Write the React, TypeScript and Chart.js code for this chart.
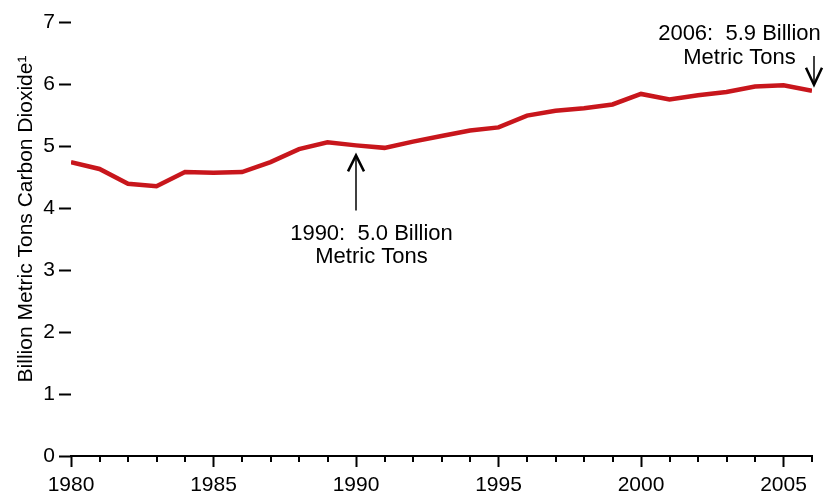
import { useEffect, useRef } from "react";
import { Chart, registerables } from "chart.js";

Chart.register(...registerables);

const years = [1980, 1981, 1982, 1983, 1984, 1985, 1986, 1987, 1988, 1989, 1990, 1991, 1992, 1993, 1994, 1995, 1996, 1997, 1998, 1999, 2000, 2001, 2002, 2003, 2004, 2005, 2006];
const emissions = [4.74, 4.63, 4.39, 4.35, 4.58, 4.57, 4.58, 4.74, 4.95, 5.06, 5.01, 4.97, 5.07, 5.16, 5.25, 5.30, 5.49, 5.57, 5.61, 5.67, 5.84, 5.75, 5.82, 5.87, 5.96, 5.98, 5.89];
const xLabelYears = [1980, 1985, 1990, 1995, 2000, 2005];
const yTicks = [0, 1, 2, 3, 4, 5, 6, 7];
const yTitle = "Billion Metric Tons Carbon Dioxide\u00B9";
const note1990 = ["1990:  5.0 Billion", "Metric Tons"];
const note2006 = ["2006:  5.9 Billion", "Metric Tons"];

const FONT = "'Liberation Sans', Arial, Helvetica, sans-serif";
const RED = "#c8161c";

export default function App() {
  const ref = useRef<HTMLCanvasElement | null>(null);

  useEffect(() => {
    const canvas = ref.current;
    if (!canvas) return;

    const decorations = {
      id: "decorations",
      afterDraw(chart: any) {
        const ctx = chart.ctx as CanvasRenderingContext2D;
        const xs = chart.scales.x;
        const ys = chart.scales.y;
        const bottom = chart.chartArea.bottom;
        ctx.save();
        // minor x ticks
        ctx.strokeStyle = "#000";
        ctx.lineWidth = 2;
        for (const yr of years) {
          if (xLabelYears.includes(yr)) continue;
          const px = Math.round(xs.getPixelForValue(yr));
          ctx.beginPath();
          ctx.moveTo(px, bottom);
          ctx.lineTo(px, bottom + 6);
          ctx.stroke();
        }
        // y title
        ctx.save();
        ctx.translate(32, 219);
        ctx.rotate(-Math.PI / 2);
        ctx.fillStyle = "#000";
        ctx.font = `21px ${FONT}`;
        ctx.textAlign = "center";
        ctx.textBaseline = "alphabetic";
        ctx.fillText(yTitle, 0, 0);
        ctx.restore();

        // annotations
        ctx.fillStyle = "#000";
        ctx.font = `22px ${FONT}`;
        ctx.textAlign = "center";
        ctx.textBaseline = "alphabetic";

        // 1990 note
        const ax = xs.getPixelForValue(1990);
        const ayTip = ys.getPixelForValue(emissions[years.indexOf(1990)]) + 9;
        ctx.lineWidth = 1.5;
        ctx.beginPath();
        ctx.moveTo(ax, ayTip + 56);
        ctx.lineTo(ax, ayTip + 1);
        ctx.stroke();
        ctx.lineWidth = 2.5;
        ctx.beginPath();
        ctx.moveTo(ax - 8, ayTip + 17);
        ctx.lineTo(ax, ayTip + 1);
        ctx.lineTo(ax + 8, ayTip + 17);
        ctx.stroke();
        ctx.fillText(note1990[0], ax + 15.5, 240);
        ctx.fillText(note1990[1], ax + 15.5, 263);

        // 2006 note
        const bx = xs.getPixelForValue(2006) + 2;
        const byTip = ys.getPixelForValue(emissions[years.indexOf(2006)]) - 5;
        ctx.lineWidth = 1.5;
        ctx.beginPath();
        ctx.moveTo(bx, 56);
        ctx.lineTo(bx, byTip - 1);
        ctx.stroke();
        ctx.lineWidth = 2.5;
        ctx.beginPath();
        ctx.moveTo(bx - 8, byTip - 18);
        ctx.lineTo(bx, byTip - 1);
        ctx.lineTo(bx + 8, byTip - 18);
        ctx.stroke();
        ctx.fillText(note2006[0], bx - 74.5, 40);
        ctx.fillText(note2006[1], bx - 74.5, 64);
        ctx.restore();
      },
    };

    const chart = new Chart(canvas, {
      type: "line",
      data: {
        labels: years,
        datasets: [
          {
            data: years.map((yr, i) => ({ x: yr, y: emissions[i] })),
            borderColor: RED,
            borderWidth: 4.5,
            pointRadius: 0,
            tension: 0,
            fill: false,
          },
        ],
      },
      options: {
        responsive: false,
        animation: false,
        events: [],
        layout: { padding: { top: 22, right: 15, left: 0, bottom: 0 } },
        plugins: { legend: { display: false }, tooltip: { enabled: false }, title: { display: false } },
        scales: {
          x: {
            type: "linear",
            min: years[0],
            max: years[years.length - 1],
            afterFit: (s: any) => {
              s.height = 37;
            },
            afterBuildTicks: (s: any) => {
              s.ticks = years.map((v) => ({ value: v }));
            },
            ticks: {
              autoSkip: false,
              maxRotation: 0,
              padding: 6,
              color: "#000",
              font: { family: FONT, size: 21 },
              callback: (v: any) => (xLabelYears.includes(Number(v)) ? String(v) : ""),
            },
            grid: {
              display: true,
              drawOnChartArea: false,
              drawTicks: true,
              tickLength: 11,
              tickWidth: 2,
              tickColor: (c: any) => (xLabelYears.includes(c.tick?.value) ? "#000" : "rgba(0,0,0,0)"),
            },
            border: { display: true, color: "#000", width: 2 },
          },
          y: {
            min: 0,
            max: 7,
            afterFit: (s: any) => {
              s.width = 71;
            },
            afterBuildTicks: (s: any) => {
              s.ticks = yTicks.map((v) => ({ value: v }));
            },
            ticks: {
              padding: 4,
              color: "#000",
              font: { family: FONT, size: 21 },
              callback: (v: any) => String(v),
            },
            grid: {
              display: true,
              drawOnChartArea: false,
              drawTicks: true,
              tickLength: 12,
              tickWidth: 2,
              tickColor: "#000",
            },
            border: { display: false },
          },
        },
      },
      plugins: [decorations],
    });
    return () => chart.destroy();
  }, []);

  return (
    <canvas
      ref={ref}
      width={827}
      height={493}
      style={{ position: "absolute", left: 0, top: 0, width: 827, height: 493, display: "block", background: "#fff" }}
    />
  );
}
